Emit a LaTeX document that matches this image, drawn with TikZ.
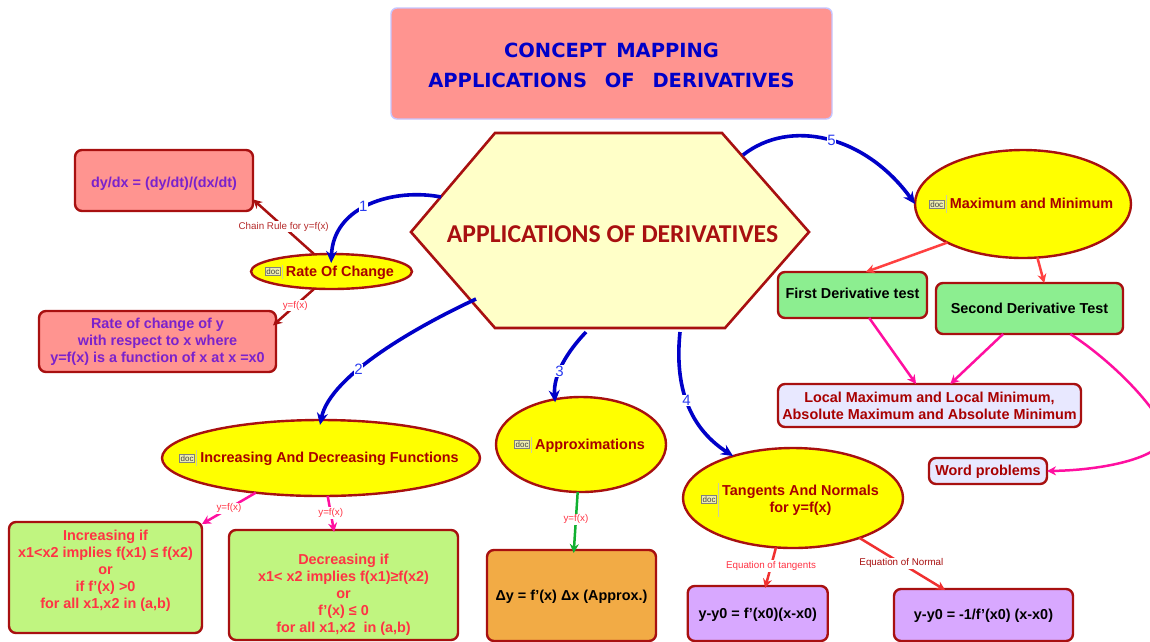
\documentclass[tikz,border=0pt]{standalone}
\usepackage{fontspec}
\setmainfont{Liberation Sans}
\newfontfamily\carlitofont{Carlito}
\newfontfamily\dejafont{DejaVu Sans}
\usetikzlibrary{shapes.geometric,arrows.meta}
\definecolor{edgered}{HTML}{A81010}
\definecolor{linkblue}{HTML}{0000C8}
\definecolor{numblue}{HTML}{2A3CF0}
\definecolor{hotpink}{HTML}{FF0FA0}
\definecolor{linkred}{HTML}{F03030}
\definecolor{softred}{HTML}{FF4040}
\definecolor{linkgreen}{HTML}{10B030}
\definecolor{salmon1}{HTML}{FF9490}
\definecolor{lime1}{HTML}{C0F580}
\definecolor{mint1}{HTML}{8CEE90}
\definecolor{orange1}{HTML}{F2AB45}
\definecolor{violet1}{HTML}{D8A8FF}
\definecolor{lav1}{HTML}{E8E8FF}
\definecolor{cream1}{HTML}{FFFFC8}
\definecolor{purpletxt}{HTML}{7A22CC}
\definecolor{redtxt}{HTML}{FF3344}
\definecolor{darkredtxt}{HTML}{A80000}
\definecolor{iconfill}{HTML}{EEEEB0}
\definecolor{ovalyellow}{RGB}{255,255,0}
\newcommand{\docicon}[1]{{\setlength{\fboxsep}{0.8pt}\setlength{\fboxrule}{0.6pt}\raisebox{1.5pt}{\fcolorbox{gray}{iconfill}{\fontsize{8}{9}\selectfont\mdseries\color{darkgray}doc}}\hspace{1.5pt}{\color{iconfill!70!gray}\raisebox{\dimexpr4.5pt-#1pt\relax}{\rule{0.8pt}{\dimexpr#1pt*2\relax}}}\hspace{3pt}}}
\newcommand{\ovaltext}[2][0]{\raisebox{\dimexpr#1pt-4.5pt\relax}[0pt][0pt]{\makebox[0pt][c]{#2}}}
\newcommand{\liftup}{\rule[-7pt]{0pt}{0pt}}
\tikzset{
  x=1pt,y=-1pt,
  boxbase/.style={draw=edgered,line width=2.4pt,rounded corners=7pt,inner sep=0pt,outer sep=0pt,align=center,font=\bfseries\fontsize{14.4}{17}\selectfont,execute at begin node={\rule{0pt}{16pt}}},
  oval/.style={ellipse,draw=edgered,line width=2.4pt,fill=ovalyellow,inner sep=0pt,outer sep=0pt,text=darkredtxt,font=\bfseries\fontsize{14.4}{17}\selectfont},
  salmonbox/.style={boxbase,fill=salmon1,text=purpletxt},
  limebox/.style={boxbase,fill=lime1,text=redtxt},
  mintbox/.style={boxbase,fill=mint1,text=black},
  violetbox/.style={boxbase,fill=violet1,text=black},
  lavbox/.style={boxbase,fill=lav1,text=darkredtxt},
  bluelink/.style={draw=linkblue,line width=3.6pt,-{Stealth[length=12pt,width=11pt]}},
  thinlink/.style={line width=2.5pt,-{Stealth[length=9pt,width=9pt]}},
  numlabel/.style={fill=white,inner sep=0.5pt,text=numblue,font=\fontsize{15}{15}\selectfont},
  linklabel/.style={fill=white,inner sep=1pt,font=\fontsize{9.8}{10}\selectfont},
}
\begin{document}
\begin{tikzpicture}
\useasboundingbox (0,0) rectangle (1150,641);
\clip (0,0) rectangle (1150,641);
\fill[white] (0,0) rectangle (1150,641);

% title
\node[draw=lav1!60!blue!50!white,line width=1.4pt,fill=salmon1,rounded corners=6pt,minimum width=441pt,minimum height=111pt,inner sep=0pt,align=center,text=linkblue,font=\dejafont\bfseries\fontsize{19.5}{30.5}\selectfont] (title) at (611.5,63.5) {\rule{0pt}{18pt}CONCEPT\hspace{3pt} MAPPING\hspace{9pt}\\APPLICATIONS\hspace{11pt} OF\hspace{11pt} DERIVATIVES};

% hub hexagon
\coordinate (hW) at (411,232);
\coordinate (hNW) at (495,133);
\coordinate (hNE) at (722,133);
\coordinate (hE) at (809,232);
\coordinate (hSE) at (725,328);
\coordinate (hSW) at (495,328);
\draw[edgered,line width=2.6pt,fill=cream1,line join=miter] (hW)--(hNW)--(hNE)--(hE)--(hSE)--(hSW)--cycle;
\node[text=edgered,font=\carlitofont\bfseries\fontsize{25.7}{27}\selectfont,inner sep=0pt] (hub) at (612.5,234) {APPLICATIONS OF DERIVATIVES};
\coordinate (h1) at (441,197);
\coordinate (h2) at (476,299);
\coordinate (h3) at (586,332);
\coordinate (h4) at (680,332);
\coordinate (h5) at (743,155);

% ovals
\node[oval,minimum width=161pt,minimum height=35pt] (rate) at (331.5,271.5) {\ovaltext{\hspace{-4pt}\docicon{7}Rate Of Change}};
\node[oval,minimum width=318pt,minimum height=76pt] (inc) at (321,458) {\ovaltext{\hspace{-4pt}\docicon{8}Increasing And Decreasing Functions}};
\node[oval,minimum width=170pt,minimum height=95pt] (appr) at (581,444.5) {\ovaltext{\hspace{-3pt}\docicon{8}Approximations}};
\node[oval,minimum width=220pt,minimum height=100pt] (tang) at (793,498) {\ovaltext[-1.5]{\hspace{-6pt}\docicon{17}\begin{tabular}{@{}c@{}}Tangents And Normals\\for y=f(x)\end{tabular}}};
\node[oval,minimum width=216pt,minimum height=108pt] (maxi) at (1023,204) {\ovaltext{\hspace{-4pt}\docicon{9}Maximum and Minimum}};

% boxes
\node[salmonbox,minimum width=178pt,minimum height=61pt] (chain) at (164,180.5) {dy/dx = (dy/dt)/(dx/dt)};
\node[salmonbox,minimum width=237pt,minimum height=61pt] (ratebox) at (157.5,341.5) {Rate of change of y\\with respect to x where\\y=f(x) is a function of x at x =x0};
\node[limebox,minimum width=193pt,minimum height=111pt] (incbox) at (105.5,577.5) {Increasing if\\x1<x2 implies f(x1) ≤ f(x2)\\or\\if f'(x) >0\\for all x1,x2 in (a,b)\rule[-16pt]{0pt}{0pt}};
\node[limebox,minimum width=229pt,minimum height=110pt] (decbox) at (343.5,585) {\rule{0pt}{30pt}Decreasing if\\x1< x2 implies f(x1)≥f(x2)\\or\\f'(x) ≤ 0\\for all x1,x2~ in (a,b)};
\node[boxbase,fill=orange1,text=black,minimum width=169pt,minimum height=91pt] (delta) at (571.5,595.5) {Δy = f'(x) Δx (Approx.)\liftup};
\node[violetbox,minimum width=140pt,minimum height=55pt] (tanbox) at (757.75,613.5) {y-y0 = f'(x0)(x-x0)\liftup};
\node[violetbox,minimum width=179pt,minimum height=52pt] (normbox) at (983.5,615) {y-y0 = -1/f'(x0) (x-x0)\liftup};
\node[mintbox,minimum width=149pt,minimum height=46pt] (first) at (852.5,295) {First Derivative test\rule[-9pt]{0pt}{0pt}};
\node[mintbox,minimum width=187pt,minimum height=51pt] (second) at (1029.5,308.5) {Second Derivative Test\liftup};
\node[lavbox,minimum width=303pt,minimum height=43pt] (local) at (929.5,405.5) {Local Maximum and Local Minimum,\\Absolute Maximum and Absolute Minimum};
\node[lavbox,minimum width=118pt,minimum height=26pt] (word) at (988,471) {Word problems\liftup};

% blue links
\draw[bluelink,shorten >=-9pt] (h1) .. controls (395,188) and (333,205) .. node[numlabel,pos=.55] {1} (rate.90);
\draw[bluelink,shorten >=-5pt] (h2) .. controls (420,325) and (330,375) .. node[numlabel,pos=.63] {2} (inc.90);
\draw[bluelink,shorten >=-3pt] (h3) .. controls (567,352) and (553,375) .. node[numlabel,pos=.6] {3} (appr.120);
\draw[bluelink] (h4) .. controls (675,380) and (685,425) .. node[numlabel,pos=.5] {4} (tang.145);
\draw[bluelink] (h5) .. controls (790,118) and (865,135) .. node[numlabel,pos=.52] {5} (maxi.180);

% other links
\draw[thinlink,edgered] (rate.135) -- node[linklabel,text=edgered!85!pink,pos=.5] {Chain Rule for y=f(x)} (chain.-12);
\draw[thinlink,edgered,shorten >=-4pt] (rate.-135) -- node[linklabel,text=redtxt,pos=.5] {y=f(x)} (ratebox.9);
\draw[thinlink,hotpink] (inc.208) -- node[linklabel,text=redtxt,pos=.5] {y=f(x)} (incbox.29);
\draw[thinlink,hotpink,shorten >=-2pt] (inc.-80) -- node[linklabel,text=redtxt,pos=.5] {y=f(x)} (decbox.100);
\draw[thinlink,linkgreen,shorten >=-3pt] (appr.-94) -- node[linklabel,text=redtxt,pos=.47] {y=f(x)} (delta.87);
\draw[thinlink,linkred,shorten >=-2pt] (tang.-109) -- node[linklabel,text=redtxt,pos=.48] {Equation of tangents} (tanbox.74);
\draw[thinlink,linkred,shorten >=-2pt] (tang.-31) -- node[linklabel,text=edgered,pos=.5] {Equation of Normal} (normbox.147);
\draw[thinlink,softred] (maxi.207) -- (first.60);
\draw[thinlink,softred] (maxi.-75) -- (second.60);
\draw[thinlink,hotpink] (first.-54) -- (local.122);
\draw[thinlink,hotpink] (second.224) -- (local.46);
\draw[thinlink,hotpink] (second.-32) .. controls (1110,360) and (1150,400) .. (1165,430) .. controls (1172,455) and (1110,470) .. (word.0);
\end{tikzpicture}
\end{document}
